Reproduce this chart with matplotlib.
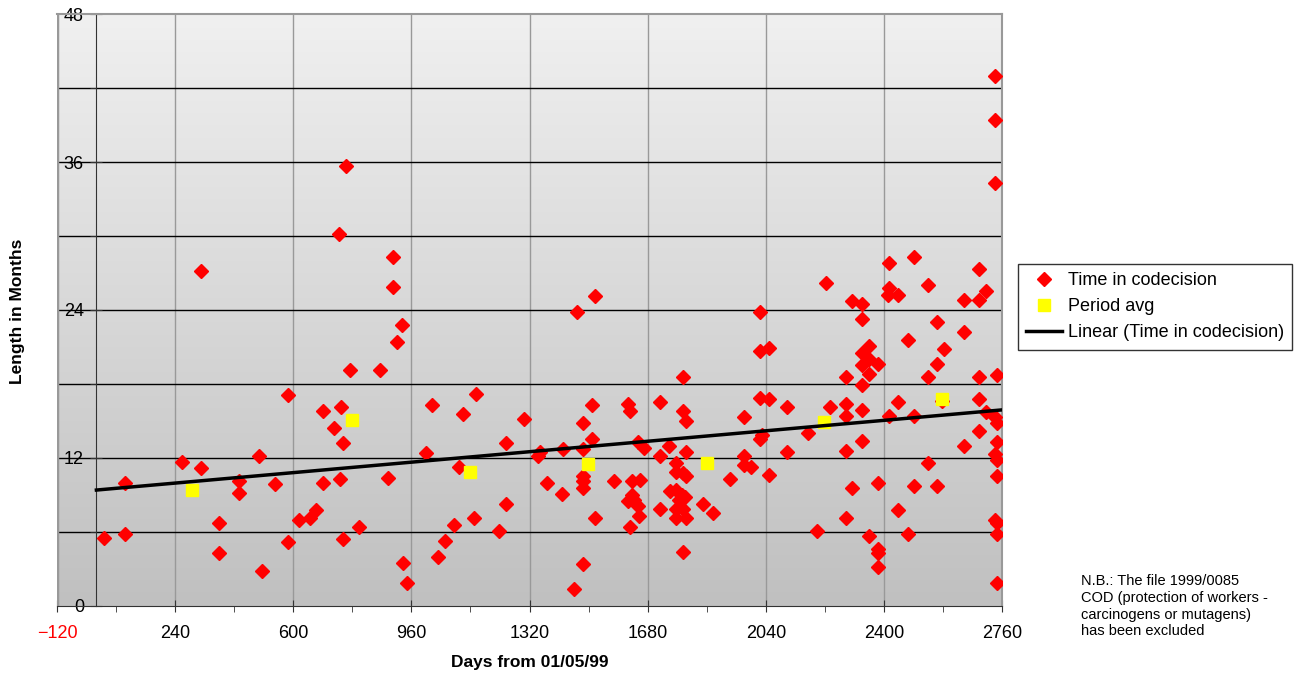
import numpy as np
import matplotlib
matplotlib.use("Agg")
import matplotlib.pyplot as plt
from matplotlib.lines import Line2D

plt.rcParams['font.family'] = ['Liberation Sans', 'DejaVu Sans']

# ---- data ----
days = [23, 87, 87, 261, 319, 319, 374, 374, 436, 436, 496, 505, 544, 584, 584,
        617, 651, 669, 691, 691, 725, 739, 746, 743, 752, 752, 761, 774, 800, 865,
        889, 904, 904, 916, 931, 934, 947, 1005, 1023, 1042, 1062, 1090, 1105, 1117,
        1151, 1157, 1227, 1248, 1248, 1303, 1346, 1352, 1373, 1419, 1422, 1456, 1465,
        1483, 1483, 1483, 1483, 1483, 1483, 1511, 1511, 1520, 1520, 1578, 1620, 1626,
        1626, 1620, 1632, 1638, 1632, 1657, 1651, 1669, 1651, 1654, 1718, 1718, 1745,
        1718, 1767, 1767, 1788, 1788, 1797, 1797, 1788, 1797, 1748, 1767, 1785, 1795,
        1776, 1767, 1788, 1767, 1797, 1788, 1849, 1880,
        1932, 1974, 1974, 1974, 1995, 2023, 2023, 2050, 2023, 2050, 2023, 2029, 2050,
        2105, 2105, 2169, 2196, 2224, 2236, 2285, 2285, 2285, 2285, 2285, 2303, 2303,
        2333, 2333, 2333, 2333, 2333, 2333, 2333, 2355, 2355, 2355, 2355, 2382, 2382,
        2382, 2382, 2382, 2413, 2416, 2416, 2416, 2444, 2444, 2444, 2474, 2474, 2493,
        2493, 2493, 2535, 2535, 2535, 2562, 2562, 2562, 2578, 2584, 2644, 2644, 2644,
        2690, 2690, 2690, 2690, 2690, 2711, 2711, 2739, 2739, 2739, 2739, 2739, 2739,
        2745, 2745, 2745, 2745, 2745, 2745, 2745, 2745]
months = [5.5, 10.0, 5.8, 11.7, 27.2, 11.2, 6.7, 4.3, 10.1, 9.2, 12.2, 2.8, 9.9, 17.1, 5.2,
          7.0, 7.1, 7.8, 15.8, 10.0, 14.4, 30.2, 16.1, 10.3, 13.2, 5.4, 35.7, 19.1, 6.4, 19.1,
          10.4, 28.3, 25.9, 21.4, 22.8, 3.5, 1.9, 12.4, 16.3, 4.0, 5.3, 6.6, 11.3, 15.6,
          7.1, 17.2, 6.1, 8.3, 13.2, 15.2, 12.2, 12.5, 10.0, 9.1, 12.7, 1.4, 23.8,
          14.8, 12.7, 10.5, 10.1, 9.6, 3.4, 16.3, 13.5, 25.1, 7.1, 10.1, 16.4, 15.8,
          6.4, 8.5, 9.0, 8.6, 10.1, 10.2, 13.3, 12.8, 8.1, 7.3, 16.5, 12.2, 13.0,
          7.9, 11.6, 10.9, 18.6, 15.8, 15.0, 12.5, 10.8, 10.5, 9.3, 9.4, 9.0, 8.8,
          8.6, 7.9, 7.9, 7.1, 7.1, 4.4, 8.3, 7.5,
          10.3, 15.3, 12.2, 11.4, 11.3, 23.8, 20.7, 20.9, 16.9, 16.8, 13.5, 13.9, 10.6,
          16.1, 12.5, 14.0, 6.1, 26.2, 16.1, 18.6, 16.4, 15.4, 12.6, 7.1, 24.7, 9.6,
          24.5, 23.3, 20.5, 19.5, 17.9, 15.9, 13.4, 21.1, 20.0, 18.8, 5.7, 19.6, 10.0,
          4.6, 4.3, 3.2, 25.2, 27.8, 25.8, 15.4, 25.2, 16.5, 7.8, 21.6, 5.8, 28.3,
          15.4, 9.7, 26.0, 18.6, 11.6, 23.0, 19.6, 9.7, 16.6, 20.8, 24.8, 22.2, 13.0,
          27.3, 24.8, 18.6, 16.8, 14.2, 25.5, 15.7, 43.0, 39.4, 34.3, 15.3, 12.3, 7.0,
          18.7, 14.8, 13.3, 11.8, 10.5, 6.7, 5.8, 1.9]

avg_days = [291, 779, 1138, 1498, 1860, 2218, 2578]
avg_months = [9.4, 15.1, 10.9, 11.5, 11.6, 14.9, 16.8]

# linear trendline end points as drawn in the chart
trend_days = [0, 2760]
trend_months = [9.4, 15.9]

x_ticks = [-120, 240, 600, 960, 1320, 1680, 2040, 2400, 2760]
y_ticks = [0, 12, 24, 36, 48]

note = ("N.B.: The file 1999/0085\nCOD (protection of workers -\n"
        "carcinogens or mutagens)\nhas been excluded")

fig = plt.figure(figsize=(13.14, 6.77), dpi=100)
ax = fig.add_axes([0.0434, 0.1049, 0.7192, 0.8744])

# gradient background
grad = np.linspace(0, 1, 256).reshape(-1, 1)
ax.imshow(grad, extent=[0, 1, 0, 1], transform=ax.transAxes, aspect='auto',
          cmap=matplotlib.colors.LinearSegmentedColormap.from_list(
              'bg', ['#f0f0f0', '#c0c0c0']), zorder=0)

ax.set_xlim(-120, 2760)
ax.set_ylim(0, 48)

# grid
for gx in x_ticks[1:-1]:
    ax.axvline(gx, color='#999999', lw=1, zorder=1)
for gy in range(6, 48, 6):
    ax.axhline(gy, color='black', lw=1, zorder=1)

# data
ax.plot(days, months, linestyle='none', marker='D', ms=6.8, color='red',
        mec='red', zorder=3)
ax.plot(avg_days, avg_months, linestyle='none', marker='s', ms=8.5,
        color='yellow', zorder=4)
ax.plot(trend_days, trend_months, color='black', lw=2.5, zorder=5)

# axes
for side in ['top', 'right']:
    ax.spines[side].set_color('#999999')
    ax.spines[side].set_linewidth(1.5)
ax.spines['left'].set_position(('data', 0))
ax.spines['left'].set_color('#333333')
ax.spines['bottom'].set_color('#333333')
ax.axvline(-120, color='#999999', lw=2.5, zorder=2)

ax.set_xticks(x_ticks)
ax.set_xticks(np.arange(60, 2760, 360), minor=True)
ax.set_yticks(y_ticks)
ax.set_yticks(np.arange(6, 48, 12), minor=True)
ax.tick_params(axis='both', which='major', direction='inout', length=8,
               labelsize=13, color='#333333')
ax.tick_params(axis='both', which='minor', direction='out', length=4,
               color='#333333')
ax.tick_params(axis='x', pad=10)
ax.tick_params(axis='y', pad=5)
ax.get_xticklabels()[0].set_color('red')

fig.text(0.013, 0.54, 'Length in Months', rotation=90, ha='center', va='center',
         fontsize=12.5, fontweight='bold')
fig.text(0.403, 0.022, 'Days from 01/05/99', ha='center', va='center',
         fontsize=12.5, fontweight='bold')

handles = [Line2D([], [], ls='none', marker='D', ms=6.8, color='red'),
           Line2D([], [], ls='none', marker='s', ms=8.5, color='yellow'),
           Line2D([], [], color='black', lw=2.5)]
labels = ['Time in codecision', 'Period avg', 'Linear (Time in codecision)']
leg = fig.legend(handles, labels, loc='upper left', bbox_to_anchor=(0.768, 0.623),
                 fontsize=13, frameon=True, fancybox=False, edgecolor='black',
                 handlelength=2.0, handletextpad=0.3, borderpad=0.45,
                 labelspacing=0.5)
leg.get_frame().set_linewidth(1)

fig.text(0.823, 0.152, note, ha='left', va='top', fontsize=10.5, linespacing=1.25)

fig.savefig('out.png', dpi=100)
